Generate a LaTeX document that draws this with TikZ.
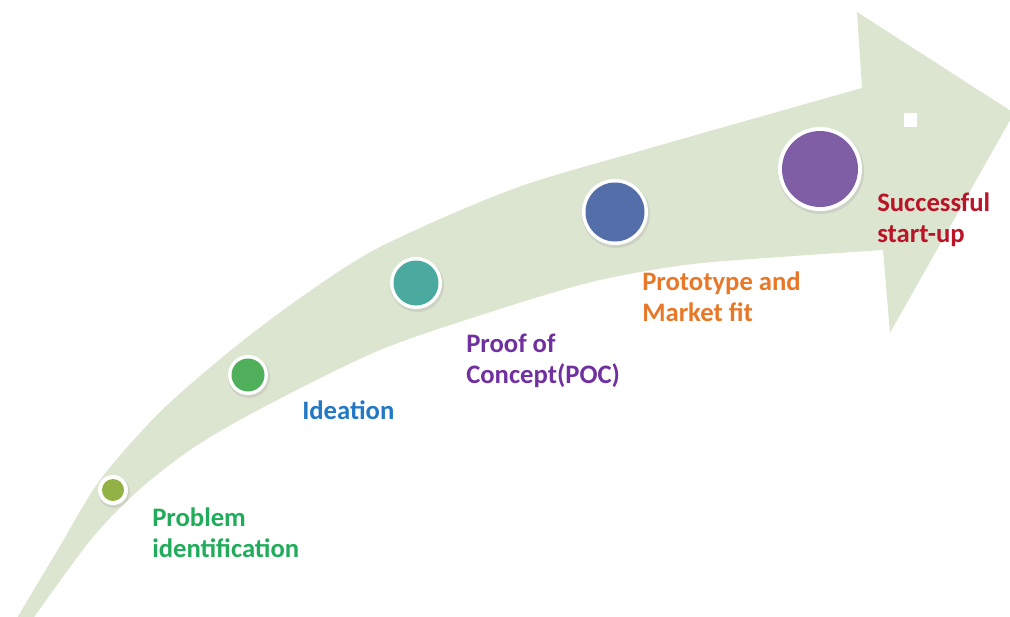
\documentclass[tikz,border=0pt]{standalone}
\usepackage{fontspec}
\setmainfont{Carlito}
\definecolor{band}{RGB}{219,229,207}
\definecolor{cA}{RGB}{146,178,70}
\definecolor{cB}{RGB}{80,175,90}
\definecolor{cC}{RGB}{75,170,160}
\definecolor{cD}{RGB}{84,110,170}
\definecolor{cE}{RGB}{128,94,165}
\definecolor{tA}{RGB}{32,172,90}
\definecolor{tB}{RGB}{34,120,196}
\definecolor{tC}{RGB}{112,48,160}
\definecolor{tD}{RGB}{232,120,40}
\definecolor{tE}{RGB}{185,20,40}
\tikzset{
  lbl/.style={anchor=base west, inner sep=0pt, align=left,
    font=\fontsize{20}{23}\selectfont\bfseries},
}
\begin{document}
\begin{tikzpicture}[x=0.75pt,y=-0.75pt]
\useasboundingbox (0,0) rectangle (1010,617);
\clip (0,0) rectangle (1010,617);
% arrow band
\fill[band] plot[smooth, tension=0.5] coordinates {(0,647) (20,613) (60,546) (100,480) (160,412) (230,351) (300,298) (380,247) (513,189) (647,149) (862,88)}
  -- (857,12) -- (1014,113) -- (890,333) -- (883,250)
  -- plot[smooth, tension=0.5] coordinates {(883,250) (713,262) (640,272) (580,285) (500,309) (380,350) (260,409) (193,448) (140,489) (93,537) (37,613) (14,647)}
  -- cycle;
% small white square
\fill[white] (904,113) rectangle (917,127);
% circles
\foreach \x/\y/\R/\r/\c [count=\i] in {113/490/15/11/cA, 248/375/20/16.5/cB, 416/283/26/22.5/cC, 615/212/33/29.5/cD, 820/169/42/38/cE}{
  \fill[black!30, opacity=0.35] (\x+1,\y+2) circle[radius=\R+1];
  \fill[white] (\x,\y) circle[radius=\R];
  \node[circle, fill=\c, inner sep=0pt, minimum size=2*\r*0.75pt] (s\i) at (\x,\y) {};
}
% labels (base = baseline of last line)
\node[lbl, text=tA] (l1) at (152,557) {Problem\\identification};
\node[lbl, text=tB] (l2) at (302,419) {Ideation};
\node[lbl, text=tC] (l3) at (466,383) {Proof of\\Concept(POC)};
\node[lbl, text=tD] (l4) at (642,321) {Prototype and\\Market fit};
\node[lbl, text=tE] (l5) at (877,242) {Successful\\start-up};
\end{tikzpicture}
\end{document}
